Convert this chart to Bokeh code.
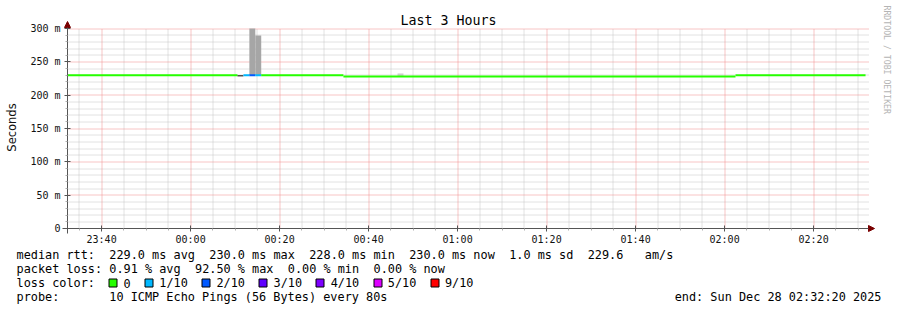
from datetime import datetime, timedelta
import math
from bokeh.plotting import figure
from bokeh.models import (Range1d, FixedTicker, Label, BoxAnnotation, Arrow,
                          NormalHead, ColumnDataSource)
from bokeh.embed import file_html
from bokeh.resources import INLINE

# ---------------- data ----------------
title_text = "Last 3 Hours"
y_axis_title = "Seconds"
start_time = "2025-12-27 23:32:20"
end_time = "2025-12-28 02:32:20"

x_tick_times = ["2025-12-27 23:40:00", "2025-12-28 00:00:00", "2025-12-28 00:20:00",
                "2025-12-28 00:40:00", "2025-12-28 01:00:00", "2025-12-28 01:20:00",
                "2025-12-28 01:40:00", "2025-12-28 02:00:00", "2025-12-28 02:20:00"]
x_tick_labels = ["23:40", "00:00", "00:20", "00:40", "01:00", "01:20", "01:40", "02:00", "02:20"]
y_tick_values = [0, 50, 100, 150, 200, 250, 300]
y_tick_labels = ["0", "50 m", "100 m", "150 m", "200 m", "250 m", "300 m"]

# median rtt (ms), step segments, with their packet-loss level
seg_start = ["2025-12-27 23:32:20", "2025-12-28 00:10:32", "2025-12-28 00:11:52",
             "2025-12-28 00:13:12", "2025-12-28 00:14:32", "2025-12-28 00:15:52",
             "2025-12-28 00:34:20", "2025-12-28 02:02:27"]
seg_end = ["2025-12-28 00:10:32", "2025-12-28 00:11:52", "2025-12-28 00:13:12",
           "2025-12-28 00:14:32", "2025-12-28 00:15:52", "2025-12-28 00:34:20",
           "2025-12-28 02:02:27", "2025-12-28 02:31:40"]
seg_rtt = [230.0, 229.0, 230.0, 230.0, 230.0, 230.0, 228.0, 230.0]
seg_loss = ["0", "10/10", "1/10", "2/10", "1/10", "0", "0", "0"]

# smoke (ping spread), ms
smoke_start = ["2025-12-28 00:13:12", "2025-12-28 00:14:32", "2025-12-28 00:46:30"]
smoke_end = ["2025-12-28 00:14:32", "2025-12-28 00:15:52", "2025-12-28 00:47:50"]
smoke_low = [230.0, 230.0, 228.0]
smoke_high = [300.0, 289.5, 232.5]

loss_labels = ["0", "1/10", "2/10", "3/10", "4/10", "5/10", "9/10"]
loss_colors = ["#26ff00", "#00b8ff", "#0059ff", "#5e00ff", "#7e00ff", "#dd00ff", "#ff0000"]

rtt_avg, rtt_max, rtt_min, rtt_now, rtt_sd, rtt_ams = 229.0, 230.0, 228.0, 230.0, 1.0, 229.6
loss_avg, loss_max, loss_min, loss_now = 0.91, 92.50, 0.00, 0.00
probe_text = "10 ICMP Echo Pings (56 Bytes) every 80s"
end_text = "end: Sun Dec 28 02:32:20 2025"
watermark = "RRDTOOL / TOBI OETIKER"

# ---------------- layout constants (canvas pixels) ----------------
W, H = 897, 310
FL, FR, FT, FB = 67, 868, 28, 228        # plotting area edges
MONO = "DejaVu Sans Mono"

def dt(s):
    return datetime.strptime(s, "%Y-%m-%d %H:%M:%S")

EPOCH = datetime(1970, 1, 1)
def ms(d):
    return (d - EPOCH).total_seconds() * 1000.0

t0, t1 = dt(start_time), dt(end_time)
Y0, Y1 = 0.0, 300.0
sec_per_px = (t1 - t0).total_seconds() / (FR - FL)
val_per_px = (Y1 - Y0) / (FB - FT)

# the frame covers the whole canvas; ranges are widened so the data area sits at FL..FR, FT..FB
x_range = Range1d(t0 - timedelta(seconds=FL * sec_per_px),
                  t1 + timedelta(seconds=(W - FR) * sec_per_px))
y_range = Range1d(Y0 - (H - FB) * val_per_px, Y1 + FT * val_per_px)

p = figure(width=W, height=H, output_backend="svg", toolbar_location=None,
           x_axis_type="datetime", x_range=x_range, y_range=y_range,
           min_border=0, min_border_left=0, min_border_right=0,
           min_border_top=0, min_border_bottom=0)
p.outline_line_color = None
p.background_fill_color = "white"
p.border_fill_color = "white"
p.grid.visible = False

# ---------------- ticks ----------------
major_x = [ms(dt(s)) for s in x_tick_times]
minor_x = []
m = ms(dt("2025-12-27 23:35:00"))
while m < ms(t1):
    if all(abs(m - mm) > 1 for mm in major_x):
        minor_x.append(m)
    m += 5 * 60 * 1000.0
minor_y = [v for v in range(10, 300, 10) if v % 50 != 0]

xa, ya = p.xaxis[0], p.yaxis[0]
xa.fixed_location = Y0
ya.fixed_location = ms(t0)
xa.bounds = (ms(t0) - 5 * sec_per_px * 1000, ms(t1))
ya.bounds = (Y0 - 5 * val_per_px, Y1)
xa.ticker = FixedTicker(ticks=major_x, minor_ticks=minor_x)
xa.major_label_overrides = {k: l for k, l in zip(major_x, x_tick_labels)}
ya.ticker = FixedTicker(ticks=y_tick_values, minor_ticks=minor_y)
ya.major_label_overrides = {k: l for k, l in zip(y_tick_values, y_tick_labels)}
for ax in (xa, ya):
    ax.axis_line_color = "#555555"
    ax.major_tick_line_color = "#555555"
    ax.minor_tick_line_color = "#b0b0b0"
    ax.major_tick_in = 3
    ax.major_tick_out = 3
    ax.minor_tick_in = 0
    ax.minor_tick_out = 2
    ax.major_label_text_font = MONO
    ax.major_label_text_font_size = "10px"
    ax.major_label_text_color = "#111111"
xa.major_label_standoff = 2
ya.major_label_standoff = 4

# ---------------- grid (dotted, snapped to pixel centres) ----------------
def snap_x(v_ms):
    px = FL + (v_ms - ms(t0)) / 1000.0 / sec_per_px
    px = math.floor(px) + 0.5
    return t0 + timedelta(seconds=(px - FL) * sec_per_px)

def snap_y(v):
    py = FB - (v - Y0) / val_per_px
    py = math.floor(py) + 0.5
    return Y0 + (FB - py) * val_per_px

MAJ_C, MIN_C = "#f08a8a", "#c4c4c4"
vx_minor = [snap_x(v) for v in minor_x]
vx_major = [snap_x(v) for v in major_x]
hy_minor = [snap_y(v) for v in minor_y]
hy_major = [snap_y(v) for v in y_tick_values[1:]]
p.segment(x0=vx_minor, y0=Y0, x1=vx_minor, y1=Y1,
          line_color=MIN_C, line_dash="1 1", line_width=1)
p.segment(x0=t0, y0=hy_minor, x1=t1, y1=hy_minor,
          line_color=MIN_C, line_dash="1 1", line_width=1)
p.segment(x0=vx_major, y0=Y0, x1=vx_major, y1=Y1,
          line_color=MAJ_C, line_dash="1 1", line_width=1)
p.segment(x0=t0, y0=hy_major, x1=t1, y1=hy_major,
          line_color=MAJ_C, line_dash="1 1", line_width=1)

# ---------------- smoke ----------------
smoke_fill = ["#a6a6a6", "#a6a6a6", "#cccccc"]
p.quad(left=[dt(s) for s in smoke_start], right=[dt(s) for s in smoke_end],
       bottom=smoke_low, top=smoke_high, fill_color=smoke_fill, line_color=None)

# ---------------- median line coloured by loss ----------------
color_of = dict(zip(loss_labels, loss_colors))
src = ColumnDataSource(dict(
    x0=[dt(s) for s in seg_start], x1=[dt(s) for s in seg_end],
    y=seg_rtt,
    c=[color_of.get(l, "#000000") for l in seg_loss],
    w=[2 if l in color_of else 1 for l in seg_loss],
))
p.segment(x0="x0", y0="y", x1="x1", y1="y", line_color="c", line_width="w",
          line_cap="butt", source=src)

# ---------------- annotations (screen px; y measured up from the bottom) ----------------
def sy(cy):
    return H - cy

ARROW = "#7a0000"
p.add_layout(Arrow(end=NormalHead(size=6, fill_color=ARROW, line_color=ARROW),
                   x_start=FR - 1, y_start=sy(FB), x_end=FR + 6, y_end=sy(FB),
                   start_units="screen", end_units="screen",
                   line_color="#555555", line_width=1))
p.add_layout(Arrow(end=NormalHead(size=6, fill_color=ARROW, line_color=ARROW),
                   x_start=FL, y_start=sy(FT + 1), x_end=FL, y_end=sy(FT - 7),
                   start_units="screen", end_units="screen",
                   line_color="#555555", line_width=1))

def lab(text, cx, cy, size="11.85px", font=MONO, align="left", color="#000000", angle=0.0):
    p.add_layout(Label(x=cx, y=sy(cy), x_units="screen", y_units="screen",
                       text=text, text_font=font, text_font_size=size,
                       text_align=align, text_baseline="middle",
                       text_color=color, angle=angle))

lab(title_text, 448, 19.5, size="13.3px", align="center")
lab(watermark, 886, 5, size="8.2px", color="#b4b4b4", angle=-1.5707963)
lab(y_axis_title, 11, 127, size="11.5px", font="DejaVu Sans", align="center",
    color="#111111", angle=1.5707963)

CW = 7.14
def col(c):
    return 16 + c * CW

rows_y = [254, 268.3, 282.5, 296.7]
lab("median rtt:", col(0), rows_y[0])
for c, t in [(13, "%.1f ms avg" % rtt_avg), (27, "%.1f ms max" % rtt_max),
             (41, "%.1f ms min" % rtt_min), (55, "%.1f ms now" % rtt_now),
             (69, "%.1f ms sd" % rtt_sd), (80, "%.1f" % rtt_ams), (88, "am/s")]:
    lab(t, col(c), rows_y[0])

lab("packet loss:", col(0), rows_y[1])
for c, t in [(13, "%.2f %% avg" % loss_avg), (25, "%.2f %% max" % loss_max),
             (38, "%.2f %% min" % loss_min), (50, "%.2f %% now" % loss_now)]:
    lab(t, col(c), rows_y[1])

lab("loss color:", col(0), rows_y[2])
c = 13
for name, colr in zip(loss_labels, loss_colors):
    bx = math.floor(col(c)) + 0.5
    by = math.floor(rows_y[2]) + 0.5
    p.add_layout(BoxAnnotation(left=bx, right=bx + 8,
                               bottom=sy(by + 4), top=sy(by - 4),
                               left_units="screen", right_units="screen",
                               bottom_units="screen", top_units="screen",
                               fill_color=colr, fill_alpha=1.0,
                               line_color="#000000", line_width=1, line_alpha=1.0))
    lab(name, col(c + 2), rows_y[2])
    c += 2 + len(name) + 2

lab("probe:", col(0), rows_y[3])
lab(probe_text, col(13), rows_y[3])
lab(end_text, 881, rows_y[3], align="right")

open("out.html", "w").write(file_html(p, INLINE))
